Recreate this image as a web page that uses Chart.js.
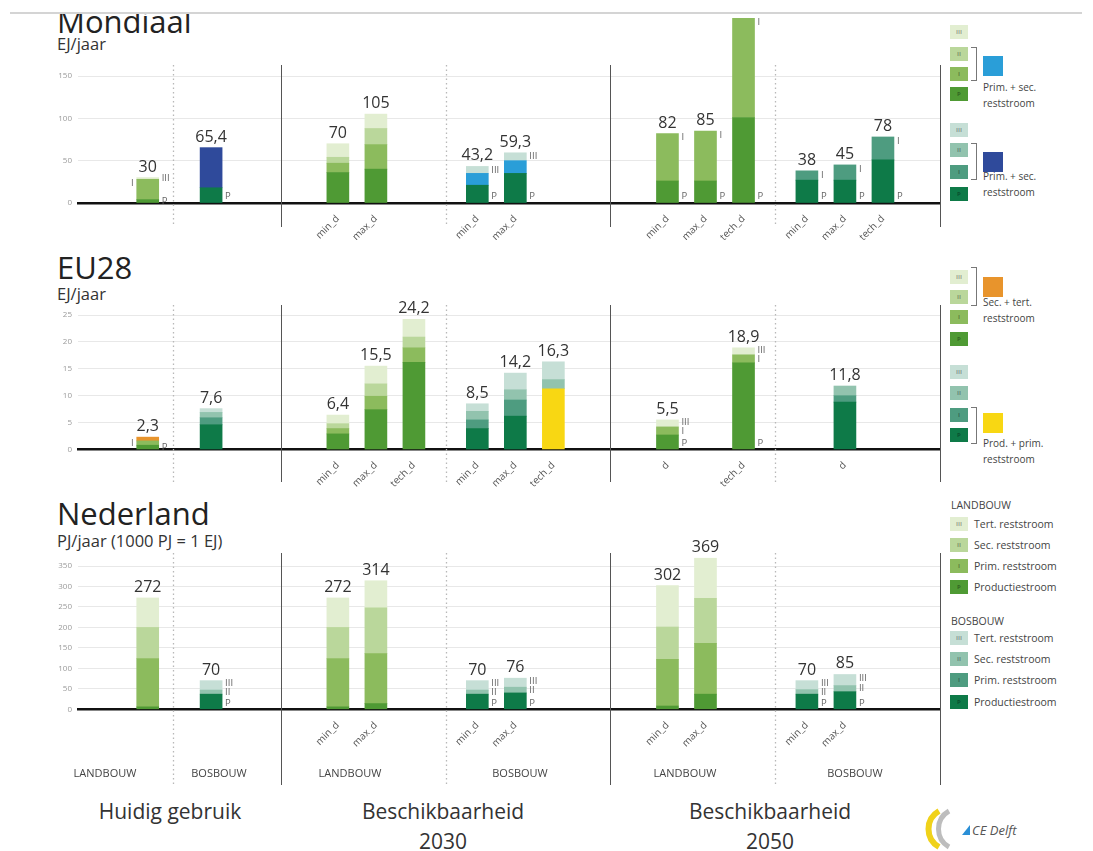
<!DOCTYPE html>
<html lang="nl">
<head>
<meta charset="utf-8">
<title>Biomassa: huidig gebruik en beschikbaarheid</title>
<script src="https://cdn.jsdelivr.net/npm/chart.js@4.4.1/dist/chart.umd.min.js"></script>
<style>
  html, body { margin: 0; padding: 0; background: #fff; }
  body { width: 1093px; height: 851px; position: relative; overflow: hidden;
         font-family: "Open Sans", "Noto Sans", sans-serif; color: #333; }
  .a { position: absolute; white-space: nowrap; }
  canvas { position: absolute; left: 0; }
  .title { font-size: 31px; line-height: 31px; color: #222; left: 57px; }
  .unit { font-size: 16.5px; line-height: 16.5px; color: #333; left: 57px; }
  .sq { position: absolute; width: 18px; height: 14px; font-size: 6px; line-height: 14px;
        text-align: center; color: rgba(0,0,0,.38); font-weight: bold; }
  .big { position: absolute; width: 20px; height: 20px; }
  .lt { font-size: 10px; line-height: 16px; color: #444; }
  .br { position: absolute; border: 1px solid #777; border-left: none; width: 5px; }
  .grp { font-size: 11px; color: #444; width: 120px; text-align: center; top: 765px; }
  .head { font-size: 21px; line-height: 30px; color: #333; text-align: center; width: 260px; top: 796px; }
  .nl { font-size: 10.5px; line-height: 14px; color: #444; }
</style>
</head>
<body>
<div class="a" style="left:10px;top:12px;width:1072px;height:2px;background:#d4d4d4"></div>

<div class="a" style="left:0;top:14px;width:400px;height:40px;overflow:hidden">
  <div class="a title" style="top:-8.5px">Mondiaal</div>
</div>
<div class="a unit" style="top:36px">EJ/jaar</div>
<div class="a title" style="top:251.5px">EU28</div>
<div class="a unit" style="top:286px">EJ/jaar</div>
<div class="a title" style="top:497.5px">Nederland</div>
<div class="a unit" style="top:533px">PJ/jaar (1000 PJ = 1 EJ)</div>

<canvas id="mondiaal" width="950" height="226" style="top:14px"></canvas>
<canvas id="eu28" width="950" height="200" style="top:290px"></canvas>
<canvas id="nederland" width="950" height="252" style="top:540px"></canvas>

<div id="legend"></div>

<div class="a grp" style="left:45px">LANDBOUW</div>
<div class="a grp" style="left:159px">BOSBOUW</div>
<div class="a grp" style="left:290px">LANDBOUW</div>
<div class="a grp" style="left:460px">BOSBOUW</div>
<div class="a grp" style="left:625px">LANDBOUW</div>
<div class="a grp" style="left:795px">BOSBOUW</div>

<div class="a head" style="left:40px">Huidig gebruik</div>
<div class="a head" style="left:313px">Beschikbaarheid<br>2030</div>
<div class="a head" style="left:640px">Beschikbaarheid<br>2050</div>

<svg class="a" style="left:920px;top:806px" width="125" height="45">
  <path d="M19 5 C5 13 5 33 19 41" stroke="#f0d21a" stroke-width="6" fill="none"/>
  <path d="M29 5 C15 13 15 33 29 41" stroke="#bdbdbd" stroke-width="5" fill="none"/>
  <polygon points="42,29 50,19 50,29" fill="#2a8fd6"/>
  <text x="52" y="29" font-size="13" font-style="italic" fill="#555" font-family="Open Sans, sans-serif">CE Delft</text>
</svg>

<script>
// bar order: huidig L/B, 2030 L min/max/tech, 2030 B min/max/tech, 2050 L min/max/tech, 2050 B min/max/tech
const SECTOR = ['L','B','L','L','L','B','B','B','L','L','L','B','B','B'];

// ---- Mondiaal (EJ/jaar)
const mondiaalLabels = ['', '', 'min_d', 'max_d', '', 'min_d', 'max_d', '', 'min_d', 'max_d', 'tech_d', 'min_d', 'max_d', 'tech_d'];
const mondiaalP      = [4, 18, 36, 40, null, 21, 35, null, 26, 26, 101, 27, 27, 51];
const mondiaalI      = [24, null, 11, 29, null, null, null, null, 56, 59, 117, 11, 18, 27];
const mondiaalPrimSecLand = [null, null, null, null, null, 14, 15, null, null, null, null, null, null, null];
const mondiaalPrimSecBos  = [null, 47.4, null, null, null, null, null, null, null, null, null, null, null, null];
const mondiaalII     = [null, null, 7, 19, null, null, null, null, null, null, null, null, null, null];
const mondiaalIII    = [2, null, 16, 17, null, 8.2, 9.3, null, null, null, null, null, null, null];
const mondiaalTotals = [30, 65.4, 70, 105, null, 43.2, 59.3, null, 82, 85, null, 38, 45, 78];
const mondiaalTags   = [['III','P'], ['P'], [], [], [], ['III','P'], ['III','P'], [], ['I','P'], ['I','P'], ['I','P'], ['I','P'], ['I','P'], ['I','P']];
const mondiaalLeftTags = [['I'], [], [], [], [], [], [], [], [], [], [], [], [], []];

// ---- EU28 (EJ/jaar)
const eu28Labels = ['', '', 'min_d', 'max_d', 'tech_d', 'min_d', 'max_d', 'tech_d', 'd', '', 'tech_d', '', 'd', ''];
const eu28P      = [0.8, 4.6, 2.9, 7.4, 16.2, 3.9, 6.2, null, 2.7, null, 16.1, null, 8.8, null];
const eu28ProdPrim = [null, null, null, null, null, null, null, 11.3, null, null, null, null, null, null];
const eu28I      = [0.8, 1.3, 1.0, 2.5, 2.7, 1.6, 3.0, null, 1.5, null, 1.5, null, 1.2, null];
const eu28II     = [null, 1.0, 0.9, 2.3, 2.0, 1.6, 1.9, 1.7, null, null, null, null, 1.8, null];
const eu28SecTert = [0.7, null, null, null, null, null, null, null, null, null, null, null, null, null];
const eu28III    = [null, 0.7, 1.6, 3.3, 3.3, 1.4, 3.1, 3.3, 1.3, null, 1.3, null, null, null];
const eu28Totals = [2.3, 7.6, 6.4, 15.5, 24.2, 8.5, 14.2, 16.3, 5.5, null, 18.9, null, 11.8, null];
const eu28Tags   = [['P'], [], [], [], [], [], [], [], ['III','I','P'], [], ['III','I','P'], [], [], []];
const eu28LeftTags = [['I'], [], [], [], [], [], [], [], [], [], [], [], [], []];

// ---- Nederland (PJ/jaar)
const nlLabels = ['', '', 'min_d', 'max_d', '', 'min_d', 'max_d', '', 'min_d', 'max_d', '', 'min_d', 'max_d', ''];
const nlP      = [6, 37, 6, 14, null, 37, 40, null, 8, 37, null, 37, 43, null];
const nlI      = [118, null, 118, 122, null, null, null, null, 114, 124, null, null, null, null];
const nlII     = [76, 10, 76, 112, null, 10, 14, null, 79, 110, null, 11, 15, null];
const nlIII    = [72, 23, 72, 66, null, 23, 22, null, 101, 98, null, 22, 27, null];
const nlTotals = [272, 70, 272, 314, null, 70, 76, null, 302, 369, null, 70, 85, null];
const nlTags   = [[], ['III','II','P'], [], [], [], ['III','II','P'], ['III','II','P'], [], [], [], [], ['III','II','P'], ['III','II','P'], []];
const nlLeftTags = [[], [], [], [], [], [], [], [], [], [], [], [], [], []];

// colours
const LAND = { P: '#4f9a34', I: '#8cbb5d', II: '#bad79b', III: '#e2eed1' };
const BOS  = { P: '#0e7a48', I: '#4e9c80', II: '#92c3ae', III: '#c6dfd6' };
const LIGHT_BLUE = '#2a9ed8', DARK_BLUE = '#2f4a9b', ORANGE = '#e8942c', YELLOW = '#f8d713';

// layout: category grid with spacer slots
const N_CATS = 68;
const SLOTS = [5, 10, 20, 23, 26, 31, 34, 37, 46, 49, 52, 57, 60, 63];
const SOLID_DIV = [16, 42, 68];
const DOTTED_DIV = [7.5, 29, 55];

Chart.defaults.font.family = '"Open Sans", "Noto Sans", sans-serif';

const expand = (arr, fill) => {
  const out = Array(N_CATS).fill(fill);
  SLOTS.forEach((s, i) => { out[s] = arr[i]; });
  return out;
};
const fmt = v => String(v).replace('.', ',');

// place segment letters next to the bar, keep them from overlapping
function drawTags(ctx, keys, segs, x) {
  const items = keys.filter(k => segs[k]).map(k => {
    const el = segs[k], mid = (el.y + el.base) / 2;
    return { k, y: k === 'P' ? Math.max(mid, el.base - 6) : Math.min(mid, el.y + 4) };
  }).sort((a, b) => b.y - a.y);
  for (let j = 1; j < items.length; j++) items[j].y = Math.min(items[j].y, items[j - 1].y - 8.5);
  items.forEach(t => ctx.fillText(t.k, x, t.y));
}

function decoPlugin(p) {
  return {
    id: 'deco',
    afterDraw(chart) {
      const ctx = chart.ctx, xs = chart.scales.x;
      const step = (xs.right - xs.left) / N_CATS;
      ctx.save();
      // group dividers
      ctx.strokeStyle = '#555'; ctx.lineWidth = 1;
      SOLID_DIV.forEach(b => {
        const x = Math.round(xs.left + b * step) + 0.5;
        ctx.beginPath(); ctx.moveTo(x, p.divTop); ctx.lineTo(x, p.divBottom); ctx.stroke();
      });
      ctx.strokeStyle = '#b8b8b8'; ctx.lineWidth = 1.3; ctx.setLineDash([1.5, 3]);
      DOTTED_DIV.forEach(b => {
        const x = Math.round(xs.left + b * step) + 0.5;
        ctx.beginPath(); ctx.moveTo(x, p.divTop); ctx.lineTo(x, p.divBottom); ctx.stroke();
      });
      ctx.setLineDash([]);

      SLOTS.forEach((slot, i) => {
        const segs = {};
        let top = Infinity, cx = null, halfW = 0;
        chart.data.datasets.forEach((ds, di) => {
          if (ds.data[slot] == null) return;
          const el = chart.getDatasetMeta(di).data[slot];
          segs[ds.label] = el;
          top = Math.min(top, el.y);
          cx = el.x; halfW = el.width / 2;
        });
        if (cx === null) return;
        if (p.totals[i] != null) {
          ctx.fillStyle = '#333'; ctx.font = '16px "Open Sans", sans-serif';
          ctx.textAlign = 'center'; ctx.textBaseline = 'alphabetic';
          ctx.fillText(fmt(p.totals[i]), cx, top - 6);
        }
        ctx.fillStyle = '#666'; ctx.font = '9.5px "Open Sans", sans-serif';
        ctx.textBaseline = 'middle';
        ctx.textAlign = 'left';
        drawTags(ctx, p.tags[i], segs, cx + halfW + 3);
        ctx.textAlign = 'right';
        drawTags(ctx, p.leftTags[i], segs, cx - halfW - 3);
      });
      ctx.restore();
    }
  };
}

function buildPanel(id, p) {
  const datasets = p.layers.map(layer => ({
    label: layer.key,
    data: expand(layer.values, null),
    backgroundColor: expand(SECTOR.map(s => layer.color || (s === 'L' ? LAND : BOS)[layer.key]), 'transparent'),
    stack: 'all',
    barThickness: 22,
    borderWidth: 0,
    clip: false
  }));
  new Chart(document.getElementById(id), {
    type: 'bar',
    data: { labels: expand(p.labels, ''), datasets },
    options: {
      responsive: false,
      animation: false,
      layout: { padding: { top: p.padTop, right: 10, left: 0, bottom: 0 } },
      plugins: { legend: { display: false }, tooltip: { enabled: false } },
      scales: {
        x: {
          stacked: true,
          grid: { display: false },
          border: { color: '#111', width: 2.5 },
          ticks: { autoSkip: false, minRotation: 45, maxRotation: 45, padding: 2,
                   color: '#555', font: { size: 10 } },
          afterFit: s => { s.height = p.xAxisH; }
        },
        y: {
          stacked: true, min: 0, max: p.max,
          grid: { color: '#e8e8e8', drawTicks: false },
          border: { display: false },
          ticks: { stepSize: p.step, padding: 6, color: '#9a9a9a', font: { size: 8 } },
          afterFit: s => { s.width = 78; }
        }
      }
    },
    plugins: [decoPlugin(p)]
  });
}

buildPanel('mondiaal', {
  labels: mondiaalLabels, totals: mondiaalTotals, tags: mondiaalTags, leftTags: mondiaalLeftTags,
  max: 150, step: 50, padTop: 62, xAxisH: 37, divTop: 51, divBottom: 213,
  layers: [
    { key: 'P', values: mondiaalP },
    { key: 'I', values: mondiaalI },
    { key: 'PrimSecLand', values: mondiaalPrimSecLand, color: LIGHT_BLUE },
    { key: 'PrimSecBos', values: mondiaalPrimSecBos, color: DARK_BLUE },
    { key: 'II', values: mondiaalII },
    { key: 'III', values: mondiaalIII }
  ]
});

buildPanel('eu28', {
  labels: eu28Labels, totals: eu28Totals, tags: eu28Tags, leftTags: eu28LeftTags,
  max: 25, step: 5, padTop: 25, xAxisH: 40.5, divTop: 15, divBottom: 192,
  layers: [
    { key: 'P', values: eu28P },
    { key: 'ProdPrim', values: eu28ProdPrim, color: YELLOW },
    { key: 'I', values: eu28I },
    { key: 'II', values: eu28II },
    { key: 'SecTert', values: eu28SecTert, color: ORANGE },
    { key: 'III', values: eu28III }
  ]
});

buildPanel('nederland', {
  labels: nlLabels, totals: nlTotals, tags: nlTags, leftTags: nlLeftTags,
  max: 350, step: 50, padTop: 26, xAxisH: 82.7, divTop: 13, divBottom: 245,
  layers: [
    { key: 'P', values: nlP },
    { key: 'I', values: nlI },
    { key: 'II', values: nlII },
    { key: 'III', values: nlIII }
  ]
});

// ---- legends on the right
const legend = document.getElementById('legend');
const add = html => legend.insertAdjacentHTML('beforeend', html);
const sq = (top, color, txt) => add(`<div class="sq" style="left:950px;top:${top}px;background:${color}">${txt}</div>`);
const stack = (pal, tops) => ['III', 'II', 'I', 'P'].forEach((k, i) => sq(tops[i], pal[k], k));
const combo = (brTop, brH, boxTop, color, textTop, lines) => {
  add(`<div class="br" style="left:971px;top:${brTop}px;height:${brH}px"></div>`);
  add(`<div class="big" style="left:983px;top:${boxTop}px;background:${color}"></div>`);
  add(`<div class="a lt" style="left:983px;top:${textTop}px">${lines.join('<br>')}</div>`);
};

stack(LAND, [25, 47, 67, 87]);
combo(47, 32, 56, LIGHT_BLUE, 79, ['Prim. + sec.', 'reststroom']);
stack(BOS, [123, 143, 165, 187]);
combo(143, 35, 152, DARK_BLUE, 168, ['Prim. + sec.', 'reststroom']);

stack(LAND, [270, 290, 310, 332]);
combo(267, 37, 277, ORANGE, 294, ['Sec. + tert.', 'reststroom']);
stack(BOS, [365, 386, 408, 428]);
combo(407, 35, 413, YELLOW, 435, ['Prod. + prim.', 'reststroom']);

const nlNames = ['Tert. reststroom', 'Sec. reststroom', 'Prim. reststroom', 'Productiestroom'];
const nlBlock = (title, titleTop, pal, tops) => {
  add(`<div class="a nl" style="left:951px;top:${titleTop}px">${title}</div>`);
  ['III', 'II', 'I', 'P'].forEach((k, i) => {
    sq(tops[i], pal[k], k);
    add(`<div class="a nl" style="left:974px;top:${tops[i]}px">${nlNames[i]}</div>`);
  });
};
nlBlock('LANDBOUW', 498, LAND, [517, 538, 559, 580]);
nlBlock('BOSBOUW', 614, BOS, [631, 652, 673, 695]);
</script>
</body>
</html>
